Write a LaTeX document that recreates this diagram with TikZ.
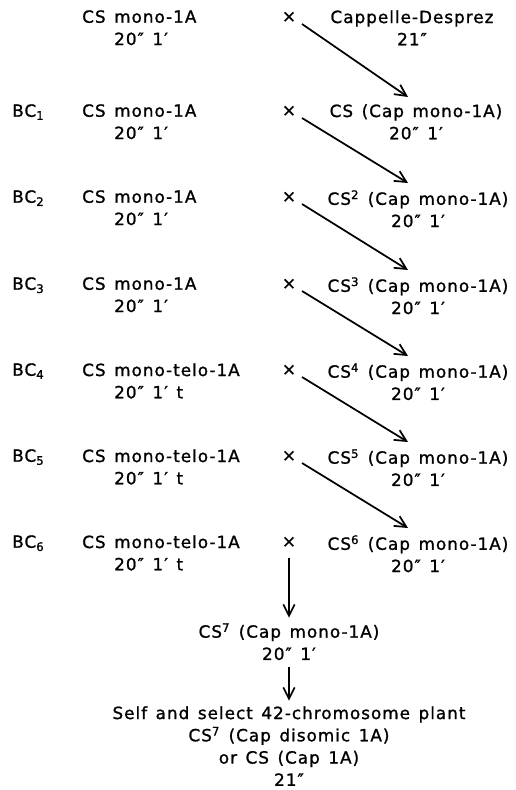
\documentclass[tikz,border=0pt]{standalone}
\usepackage{fontspec}
\setmainfont{DejaVu Sans}[LetterSpace=6, WordSpace=1.35, FakeBold=1.2]
\usepackage{tikz}
\usetikzlibrary{arrows.meta, positioning, calc}
\tikzset{
  gen/.style={anchor=north west, inner sep=0pt},
  parent/.style={anchor=north west, align=left, inner sep=0pt},
  cross/.style={anchor=base, inner sep=0pt},
  progeny/.style={anchor=north, align=center, inner sep=0pt},
  link/.style={-{Straight Barb[length=3mm, width=3mm]}, line width=1.3pt}
}
\newcommand{\sfx}{\hphantom{CS }}

\begin{document}
\begin{tikzpicture}[x=0.75pt, y=-0.75pt, font=\fontsize{12.6}{16.7}\selectfont]
        \useasboundingbox (0,0) rectangle (516,790);

        % Generations
        \node[gen] (bc1) at (12,104) {BC\textsubscript{1}};
        \node[gen] (bc2) at (12,190) {BC\textsubscript{2}};
        \node[gen] (bc3) at (12,277) {BC\textsubscript{3}};
        \node[gen] (bc4) at (12,363) {BC\textsubscript{4}};
        \node[gen] (bc5) at (12,449) {BC\textsubscript{5}};
        \node[gen] (bc6) at (12,535) {BC\textsubscript{6}};

        % Recurrent parent
        \node[parent] (mono0) at (82, 10) {CS mono-1A\\\sfx 20″ 1′};
        \node[parent] (mono1) at (82,104) {CS mono-1A\\\sfx 20″ 1′};
        \node[parent] (mono2) at (82,190) {CS mono-1A\\\sfx 20″ 1′};
        \node[parent] (mono3) at (82,277) {CS mono-1A\\\sfx 20″ 1′};
        \node[parent] (mono4) at (82,363) {CS mono-telo-1A\\\sfx 20″ 1′ t};
        \node[parent] (mono5) at (82,449) {CS mono-telo-1A\\\sfx 20″ 1′ t};
        \node[parent] (mono6) at (82,535) {CS mono-telo-1A\\\sfx 20″ 1′ t};

        % Crosses
        \node[cross] (x0) at (289, 22) {×};
        \node[cross] (x1) at (289,116) {×};
        \node[cross] (x2) at (289,202) {×};
        \node[cross] (x3) at (289,289) {×};
        \node[cross] (x4) at (289,375) {×};
        \node[cross] (x5) at (289,461) {×};
        \node[cross] (x6) at (289,547) {×};

        % Donor and progeny
        \node[progeny] (p0) at (412, 10) {Cappelle-Desprez\\21″};
        \node[progeny] (p1) at (416,104) {CS (Cap mono-1A)\\20″ 1′};
        \node[progeny] (p2) at (418,190) {CS\textsuperscript{2} (Cap mono-1A)\\20″ 1′};
        \node[progeny] (p3) at (418,277) {CS\textsuperscript{3} (Cap mono-1A)\\20″ 1′};
        \node[progeny] (p4) at (418,363) {CS\textsuperscript{4} (Cap mono-1A)\\20″ 1′};
        \node[progeny] (p5) at (418,449) {CS\textsuperscript{5} (Cap mono-1A)\\20″ 1′};
        \node[progeny] (p6) at (418,535) {CS\textsuperscript{6} (Cap mono-1A)\\20″ 1′};
        \node[progeny] (p7) at (289,623) {CS\textsuperscript{7} (Cap mono-1A)\\20″ 1′};
        \node[progeny] (final) at (289,706) {Self and select 42-chromosome plant\\CS\textsuperscript{7} (Cap disomic 1A)\\or CS (Cap 1A)\\21″};

        % Links
        \draw[link] ([shift={(13,2)}]x0.base) -- ([shift={(-8,-7)}]p1.north);
        \draw[link] ([shift={(13,2)}]x1.base) -- ([shift={(-10,-7)}]p2.north);
        \draw[link] ([shift={(13,2)}]x2.base) -- ([shift={(-10,-7)}]p3.north);
        \draw[link] ([shift={(13,2)}]x3.base) -- ([shift={(-10,-7)}]p4.north);
        \draw[link] ([shift={(13,2)}]x4.base) -- ([shift={(-10,-7)}]p5.north);
        \draw[link] ([shift={(13,2)}]x5.base) -- ([shift={(-10,-7)}]p6.north);

        \draw[link] ([yshift=-8pt]x6.base) -- ([yshift=4pt]p7.north);
        \draw[link] ([yshift=-5pt]p7.south) -- ([yshift=4pt]final.north);
    \end{tikzpicture}
\end{document}
